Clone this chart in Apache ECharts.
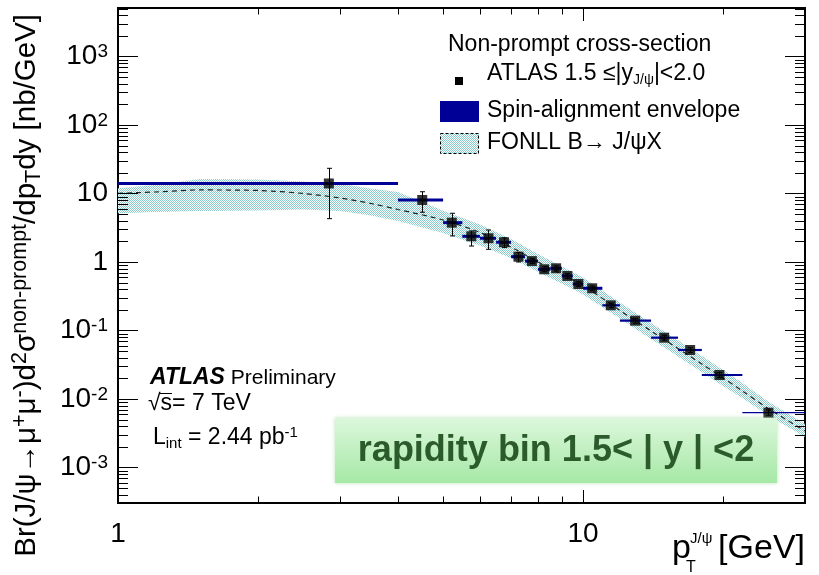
<!DOCTYPE html>
<html><head><meta charset="utf-8">
<script src="https://cdn.jsdelivr.net/npm/echarts@6/dist/echarts.min.js"></script>
<style>html,body{margin:0;padding:0;background:#fff}#c{width:819px;height:575px}</style>
</head><body><div id="c"></div>
<script>
// ---------- data ----------
const binLow  = [1,4,5,5.5,6,6.5,7,7.5,8,8.5,9,9.5,10,11,12,14,16,18,22];
const binHigh = [4,5,5.5,6,6.5,7,7.5,8,8.5,9,9.5,10,11,12,14,16,18,22,30];
const ptX = [2.84,4.51,5.22,5.75,6.26,6.76,7.26,7.76,8.25,8.75,9.25,9.77,10.46,11.47,12.94,14.94,16.99,19.64,25.03];
const ptY = [14.0,8.04,3.75,2.37,2.22,1.94,1.195,1.03,0.782,0.809,0.625,0.477,0.413,0.233,0.139,0.0785,0.0519,0.0224,0.00631];
const errLow  = [4.29,5.32,2.40,1.71,1.53,1.62,1.0,0.95,0.72,0.745,0.575,0.44,0.38,0.215,0.128,0.072,0.0477,0.0205,0.0057];
const errHigh = [23.3,10.6,5.14,2.84,2.93,2.25,1.38,1.11,0.85,0.875,0.675,0.515,0.445,0.251,0.150,0.085,0.0561,0.0243,0.0069];

const fonllX  = [1,1.2,1.5,2,2.5,3,3.5,4,5,6,7,8,9,10,12,14,16,18,20,22,25,30];
const fonllC  = [10.07,10.5,11.25,11.06,10.0,8.6,7.14,5.84,4.1,2.70,1.65,1.0,0.657,0.454,0.196,0.0984,0.0546,0.0324,0.0203,0.0131,0.00727,0.00341];
const fonllHi = [11.9,13.3,16.3,16.0,15.0,13.8,11.8,10.5,5.6,3.53,2.17,1.31,0.86,0.594,0.256,0.129,0.0714,0.0424,0.0265,0.0171,0.0092,0.00432];
const fonllLo = [5.14,5.37,5.55,5.65,5.84,5.55,4.77,3.95,2.65,1.74,1.14,0.715,0.485,0.336,0.150,0.0751,0.0417,0.0248,0.0155,0.01035,0.00574,0.00279];

const xMajorTicks = [1,10];
const xMinorTicks = [2,3,4,5,6,7,8,9,20,30];
const yMajorTicks = [1e-3,1e-2,1e-1,1,10,100,1000];
const yMinorMultipliers = [2,3,4,5,6,7,8,9];

const xMin = 1, xMax = 30;
const yMin = 3.03e-4, yMax = 5100;

// ---------- helpers ----------
const FONT = 'Liberation Sans, Arial, Helvetica, sans-serif';
const yMinorTicks = [];
for (let e = -4; e <= 3; e++) for (const m of yMinorMultipliers) {
  const v = m * Math.pow(10, e);
  if (v >= yMin && v <= yMax) yMinorTicks.push(v);
}
function decade(v){ const l = Math.log10(v); const e = Math.round(l); return Math.abs(l-e) < 1e-6 ? e : null; }

// dotted pattern for FONLL band
const pat = document.createElement('canvas'); pat.width = 2; pat.height = 2;
const pctx = pat.getContext('2d');
pctx.fillStyle = '#ffffff'; pctx.fillRect(0,0,2,2);
pctx.fillStyle = '#86cccc'; pctx.fillRect(0,0,1,1); pctx.fillRect(1,1,1,1);
const patternFill = { image: pat, repeat: 'repeat' };

const chart = echarts.init(document.getElementById('c'), null, {renderer:'canvas'});

const bandData = fonllX.map((x,i)=>[x, fonllLo[i], fonllHi[i]]);
const envData = ptX.map((x,i)=>[x, ptY[i], binLow[i], binHigh[i]]);
const errData = ptX.map((x,i)=>[x, ptY[i], errLow[i], errHigh[i]]);
const xTickData = xMajorTicks.map(v=>[v, yMin, 1]).concat(xMinorTicks.map(v=>[v, yMin, 0]));
const yTickData = yMajorTicks.map(v=>[xMin, v, 1]).concat(yMinorTicks.map(v=>[xMin, v, 0]));

const option = {
  animation: false,
  backgroundColor: '#fff',
  grid: { left: 118, right: 14, top: 8, bottom: 72, show: true, borderColor: '#000', borderWidth: 2, backgroundColor: 'transparent' },
  xAxis: {
    type: 'log', logBase: 10, min: xMin, max: xMax,
    axisLine: {show:false}, axisTick: {show:false}, splitLine: {show:false},
    axisLabel: { fontFamily: FONT, fontSize: 28, color: '#000', margin: 17,
      formatter: v => { const e = decade(v); return (e===0)?'1':(e===1)?'10':''; } }
  },
  yAxis: {
    type: 'log', logBase: 10, min: yMin, max: yMax,
    axisLine: {show:false}, axisTick: {show:false}, splitLine: {show:false},
    axisLabel: { fontFamily: FONT, color: '#000', margin: 10,
      formatter: v => { const e = decade(v); if (e===null) return '';
        if (e===0) return '{b|1}'; if (e===1) return '{b|10}'; return '{b|10}{s|' + e + '}'; },
      rich: { b: {fontFamily: FONT, fontSize: 28, lineHeight: 28, color:'#000'},
              s: {fontFamily: FONT, fontSize: 19, lineHeight: 12, verticalAlign: 'top', color:'#000'} }
    }
  },
  series: [
    { // FONLL band
      type: 'custom', silent: true, z: 1, data: bandData, encode: {x:0, y:[1,2]},
      renderItem: (params, api) => {
        if (params.dataIndex !== 0) return null;
        const pts = [];
        for (let i=0;i<fonllX.length;i++) pts.push(api.coord([fonllX[i], fonllHi[i]]));
        for (let i=fonllX.length-1;i>=0;i--) pts.push(api.coord([fonllX[i], fonllLo[i]]));
        return { type:'polygon', shape:{points:pts}, style:{fill: patternFill, stroke: null} };
      }
    },
    { // FONLL central
      type: 'line', silent: true, z: 2, data: fonllX.map((x,i)=>[x, fonllC[i]]), symbol: 'none', smooth: 0.3,
      lineStyle: {color:'#222', width: 1.2, type: [5,4]}
    },
    { // spin-alignment envelope
      type: 'custom', silent: true, z: 3, data: envData, encode: {x:0, y:1},
      renderItem: (params, api) => {
        const y = api.value(1);
        const p1 = api.coord([api.value(2), y]); const p2 = api.coord([api.value(3), y]);
        const i = params.dataIndex;
        const h = i >= 18 ? 1.3 : (i >= 13 ? 2.2 : 3);
        return { type:'rect', shape:{x:p1[0], y:p1[1]-h/2, width:p2[0]-p1[0], height:h}, style:{fill:'#000096'} };
      }
    },
    { // error bars
      type: 'custom', silent: true, z: 4, data: errData, encode: {x:0, y:[2,3]},
      renderItem: (params, api) => {
        const lo = api.coord([api.value(0), api.value(2)]); const hi = api.coord([api.value(0), api.value(3)]);
        const x = Math.round(lo[0]) + 0.5;
        const st = {stroke:'#000', lineWidth:1};
        return { type:'group', children:[
          {type:'line', shape:{x1:x, y1:lo[1], x2:x, y2:hi[1]}, style:st},
          {type:'line', shape:{x1:x-2.5, y1:lo[1], x2:x+2.5, y2:lo[1]}, style:st},
          {type:'line', shape:{x1:x-2.5, y1:hi[1], x2:x+2.5, y2:hi[1]}, style:st}
        ]};
      }
    },
    { // data points
      type: 'scatter', silent: true, z: 5, data: ptX.map((x,i)=>[x, ptY[i]]),
      symbol: 'rect', symbolSize: 10, itemStyle: {color:'#000'}
    },
    { // x ticks (bottom & top)
      type: 'custom', silent: true, z: 6, data: xTickData, encode: {x:0, y:1}, clip: false,
      renderItem: (params, api) => {
        const p = api.coord([api.value(0), api.value(1)]); const cs = params.coordSys;
        const len = api.value(2) ? 13 : 6.5; const x = Math.round(p[0]) + 0.5;
        const st = {stroke:'#000', lineWidth:1};
        const yb = cs.y + cs.height, yt = cs.y;
        return { type:'group', children:[
          {type:'line', shape:{x1:x, y1:yb, x2:x, y2:yb-len}, style:st},
          {type:'line', shape:{x1:x, y1:yt, x2:x, y2:yt+len}, style:st}
        ]};
      }
    },
    { // y ticks (left & right)
      type: 'custom', silent: true, z: 6, data: yTickData, encode: {x:0, y:1}, clip: false,
      renderItem: (params, api) => {
        const p = api.coord([api.value(0), api.value(1)]); const cs = params.coordSys;
        const len = api.value(2) ? 20 : 10; const y = Math.round(p[1]) + 0.5;
        const st = {stroke:'#000', lineWidth:1};
        const xl = cs.x, xr = cs.x + cs.width;
        return { type:'group', children:[
          {type:'line', shape:{x1:xl, y1:y, x2:xl+len, y2:y}, style:st},
          {type:'line', shape:{x1:xr, y1:y, x2:xr-len, y2:y}, style:st}
        ]};
      }
    }
  ],
  graphic: [
    // Y-axis title
    { type:'text', x: 27, y: 14, rotation: Math.PI/2, z: 10, silent: true,
      style: { text: '{t|Br(J/ψ→μ}{sp|+}{t|μ}{sp|-}{t|)d}{sp|2}{t|σ}{sp|non-prompt}{t|/dp}{sb|T}{t|dy [nb/GeV]}',
        align: 'right', verticalAlign: 'middle',
        rich: { t:{fontFamily:FONT, fontSize:29.5, lineHeight:36, fill:'#000'},
                sp:{fontFamily:FONT, fontSize:21.5, lineHeight:12, verticalAlign:'top', fill:'#000'},
                sb:{fontFamily:FONT, fontSize:21.5, lineHeight:12, verticalAlign:'bottom', fill:'#000'} } } },
    // X-axis title
    { type:'text', x: 672, y: 549, z: 10, silent: true, style:{ text:'p', font:'34px '+FONT, fill:'#000', align:'left', verticalAlign:'middle'} },
    { type:'text', x: 690, y: 539, z: 10, silent: true, style:{ text:'J/ψ', font:'15px '+FONT, fill:'#000', align:'left', verticalAlign:'middle'} },
    { type:'text', x: 686, y: 568, z: 10, silent: true, style:{ text:'T', font:'16px '+FONT, fill:'#000', align:'left', verticalAlign:'middle'} },
    { type:'text', x: 805, y: 549, z: 10, silent: true, style:{ text:'[GeV]', font:'34px '+FONT, fill:'#000', align:'right', verticalAlign:'middle'} },
    // legend
    { type:'text', x: 448, y: 45, z: 10, silent: true, style:{ text:'Non-prompt cross-section', font:'23px '+FONT, fill:'#000', align:'left', verticalAlign:'middle'} },
    { type:'rect', shape:{x:455, y:77, width:8, height:8}, z: 10, silent: true, style:{fill:'#000'} },
    { type:'text', x: 487, y: 74, z: 10, silent: true,
      style:{ text:'{t|ATLAS 1.5 ≤|y}{sb|J/ψ}{t||<2.0}', align:'left', verticalAlign:'middle',
        rich:{ t:{fontFamily:FONT, fontSize:23, lineHeight:26, fill:'#000'}, sb:{fontFamily:FONT, fontSize:14, lineHeight:10, verticalAlign:'bottom', fill:'#000'} } } },
    { type:'rect', shape:{x:440, y:101, width:39, height:21}, z: 10, silent: true, style:{fill:'#000096'} },
    { type:'text', x: 487, y: 111, z: 10, silent: true, style:{ text:'Spin-alignment envelope', font:'23px '+FONT, fill:'#000', align:'left', verticalAlign:'middle'} },
    { type:'rect', shape:{x:440.5, y:133.5, width:38, height:20}, z: 10, silent: true, style:{fill: patternFill, stroke:'#000', lineWidth:1, lineDash:[3,2]} },
    { type:'text', x: 487, y: 143, z: 10, silent: true, style:{ text:'FONLL B→ J/ψX', font:'23px '+FONT, fill:'#000', align:'left', verticalAlign:'middle'} },
    // ATLAS labels
    { type:'text', x: 150, y: 378, z: 10, silent: true,
      style:{ text:'{b|ATLAS}{t| Preliminary}', align:'left', verticalAlign:'middle',
        rich:{ b:{fontFamily:FONT, fontSize:23, fontWeight:'bold', fontStyle:'italic', fill:'#000'}, t:{fontFamily:FONT, fontSize:21, fill:'#000'} } } },
    { type:'text', x: 148, y: 404, z: 10, silent: true, style:{ text:'√s= 7 TeV', font:'23px '+FONT, fill:'#000', align:'left', verticalAlign:'middle'} },
    { type:'line', shape:{x1:160, y1:393.5, x2:172, y2:393.5}, z: 10, silent: true, style:{stroke:'#000', lineWidth:1} },
    { type:'text', x: 153, y: 438, z: 10, silent: true,
      style:{ text:'{t|L}{sb|int}{t| = 2.44 pb}{sp|-1}', align:'left', verticalAlign:'middle',
        rich:{ t:{fontFamily:FONT, fontSize:23, lineHeight:26, fill:'#000'},
               sb:{fontFamily:FONT, fontSize:15, lineHeight:10, verticalAlign:'bottom', fill:'#000'},
               sp:{fontFamily:FONT, fontSize:15, lineHeight:10, verticalAlign:'top', fill:'#000'} } } },
    // rapidity box
    { type:'rect', shape:{x:335, y:418, width:442, height:65}, z: 9, silent: true,
      style:{ fill:{type:'linear', x:0, y:0, x2:0, y2:1, colorStops:[{offset:0, color:'#dcf7dc'},{offset:1, color:'#a6e8a6'}]},
        shadowBlur: 4, shadowColor: 'rgba(140,210,140,0.6)'} },
    { type:'text', x: 556, y: 451, z: 10, silent: true,
      style:{ text:'rapidity bin 1.5< | y | <2', font:'bold 36px '+FONT, fill:'#2b5a2b', align:'center', verticalAlign:'middle'} }
  ]
};
chart.setOption(option);
</script>
</body></html>
